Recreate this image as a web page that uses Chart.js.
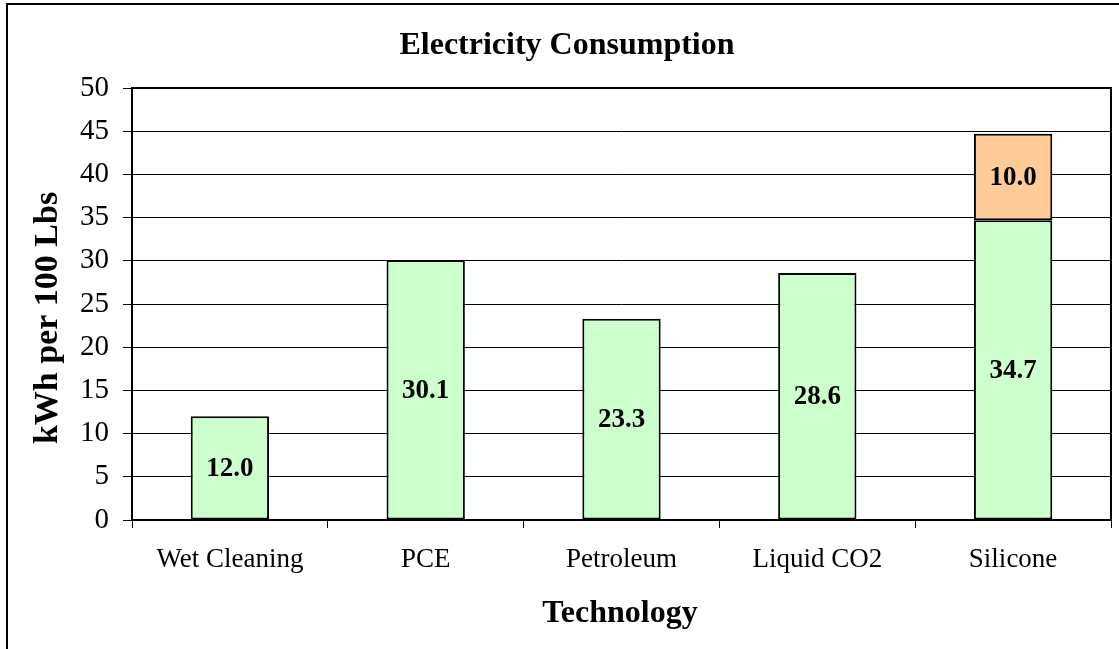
<!DOCTYPE html>
<html>
<head>
<meta charset="utf-8">
<script src="https://cdn.jsdelivr.net/npm/chart.js@4/dist/chart.umd.min.js"></script>
<style>
  body { margin: 0; background: #fff; }
  canvas { display: block; }
</style>
</head>
<body>
<canvas id="myChart" width="1119" height="649"></canvas>
<script>
const categories = ["Wet Cleaning", "PCE", "Petroleum", "Liquid CO2", "Silicone"];
const baseValues = [12.0, 30.1, 23.3, 28.6, 34.7];
const extraValues = [null, null, null, null, 10.0];
const yTicks = [0, 5, 10, 15, 20, 25, 30, 35, 40, 45, 50];

const serif = "'Liberation Serif', 'Times New Roman', serif";

// frame, plot border, titles and value labels
const decorations = {
  id: "decorations",
  beforeDraw(chart) {
    const ctx = chart.ctx;
    ctx.save();
    ctx.strokeStyle = "#000";
    ctx.lineWidth = 2;
    ctx.beginPath();
    ctx.moveTo(7, 649);
    ctx.lineTo(7, 4);
    ctx.lineTo(1119, 4);
    ctx.stroke();
    ctx.restore();
  },
  afterDatasetsDraw(chart) {
    const ctx = chart.ctx;
    const area = chart.chartArea;
    ctx.save();
    ctx.strokeStyle = "#000";
    ctx.lineWidth = 2;
    ctx.strokeRect(area.left, area.top, area.right - area.left, area.bottom - area.top);

    ctx.fillStyle = "#000";
    ctx.textAlign = "center";
    ctx.textBaseline = "middle";
    ctx.font = "bold 27px " + serif;
    chart.data.datasets.forEach((ds, i) => {
      const meta = chart.getDatasetMeta(i);
      meta.data.forEach((bar, j) => {
        const v = ds.data[j];
        if (v == null) return;
        const mid = (bar.y + bar.base) / 2;
        ctx.fillText(v.toFixed(1), bar.x, mid + 1);
      });
    });

    ctx.textBaseline = "alphabetic";
    ctx.font = "bold 32px " + serif;
    ctx.fillText("Electricity Consumption", 567, 54);
    ctx.fillText("Technology", 620, 622);

    ctx.font = "bold 34px " + serif;
    ctx.translate(57, 318);
    ctx.rotate(-Math.PI / 2);
    ctx.fillText("kWh per 100 Lbs", 0, 0);
    ctx.restore();
  }
};

const config = {
  type: "bar",
  data: {
    labels: categories,
    datasets: [
      {
        data: baseValues,
        backgroundColor: "#CCFFCC",
        borderColor: "#000",
        borderWidth: 2,
        borderSkipped: false
      },
      {
        data: extraValues,
        backgroundColor: "#FFCC99",
        borderColor: "#000",
        borderWidth: 2,
        borderSkipped: false
      }
    ]
  },
  options: {
    responsive: false,
    animation: false,
    layout: { padding: { top: 88, right: 8, left: 0, bottom: 0 } },
    datasets: { bar: { categoryPercentage: 1.0, barPercentage: 0.4 } },
    plugins: {
      legend: { display: false },
      title: { display: false },
      tooltip: { enabled: false }
    },
    scales: {
      x: {
        stacked: true,
        offset: true,
        afterFit: (scale) => { scale.height = 129; },
        grid: {
          offset: true,
          drawOnChartArea: false,
          drawTicks: true,
          tickLength: 8,
          color: "#000",
          lineWidth: 1
        },
        border: { display: false },
        ticks: {
          color: "#000",
          padding: 16,
          maxRotation: 0,
          font: { family: serif, size: 27 }
        }
      },
      y: {
        stacked: true,
        min: 0,
        max: 50,
        afterFit: (scale) => { scale.width = 132; },
        afterBuildTicks: (scale) => {
          scale.ticks = yTicks.map(v => ({ value: v }));
        },
        grid: {
          color: "#000",
          lineWidth: 1,
          tickLength: 9
        },
        border: { display: false },
        ticks: {
          color: "#000",
          padding: 14,
          font: { family: serif, size: 29 }
        }
      }
    }
  },
  plugins: [decorations]
};

new Chart(document.getElementById("myChart"), config);
</script>
</body>
</html>
